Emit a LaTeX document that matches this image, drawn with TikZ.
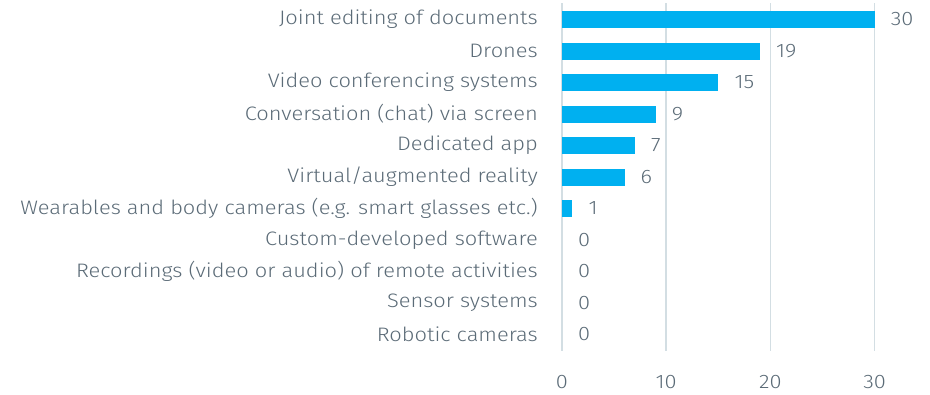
\documentclass[tikz,border=0pt]{standalone}
\usepackage{fontspec}
\setmainfont{Fira Sans}[UprightFont=* Light, FakeStretch=1.12]
\definecolor{barblue}{HTML}{00B0F0}
\definecolor{gridc}{HTML}{D3DEE3}
\definecolor{txt}{HTML}{5B6B77}
\begin{document}
\begin{tikzpicture}[x=1pt,y=-1pt,
  lbl/.style={anchor=east,inner sep=0pt,text=txt,font=\fontsize{19.5}{22}\selectfont},
  val/.style={anchor=west,inner sep=0pt,text=txt,font=\fontsize{19.5}{22}\selectfont},
  tick/.style={anchor=center,inner sep=0pt,text=txt,font=\fontsize{19.5}{22}\selectfont},
  gridline/.style={draw=gridc,line width=1.5pt},
  barfill/.style={fill=barblue,draw=none}]
\useasboundingbox (0,0) rectangle (930,394);
% grid
\foreach \v/\n in {0/g0,10/g1,20/g2,30/g3}{
  \coordinate (\n top) at ({562+10.42*\v},3);
  \coordinate (\n bot) at ({562+10.42*\v},351);
  \draw[gridline] (\n top) -- (\n bot);
  \node[tick] (\n lab) at ({562+10.42*\v},382) {\v};
}
\foreach \i/\t/\v in {
  0/{Joint editing of documents}/30,
  1/{Drones}/19,
  2/{Video conferencing systems}/15,
  3/{Conversation (chat) via screen}/9,
  4/{Dedicated app}/7,
  5/{Virtual/augmented reality\ }/6,
  6/{Wearables and body cameras (e.g. smart glasses etc.)}/1,
  7/{Custom-developed software\ }/0,
  8/{Recordings (video or audio) of remote activities}/0,
  9/{Sensor systems}/0,
  10/{Robotic cameras}/0}{
  \pgfmathsetmacro{\yc}{19.5+31.5*\i}
  \node[lbl] (l\i) at (538,\yc) {\t};
  \ifnum\v>0
    \fill[barfill] (562,\yc-8.5) rectangle ({562+10.42*\v},\yc+8.5);
  \fi
  \node[val] (v\i) at ({562+10.42*\v+16},\yc) {\v};
}
\end{tikzpicture}
\end{document}
